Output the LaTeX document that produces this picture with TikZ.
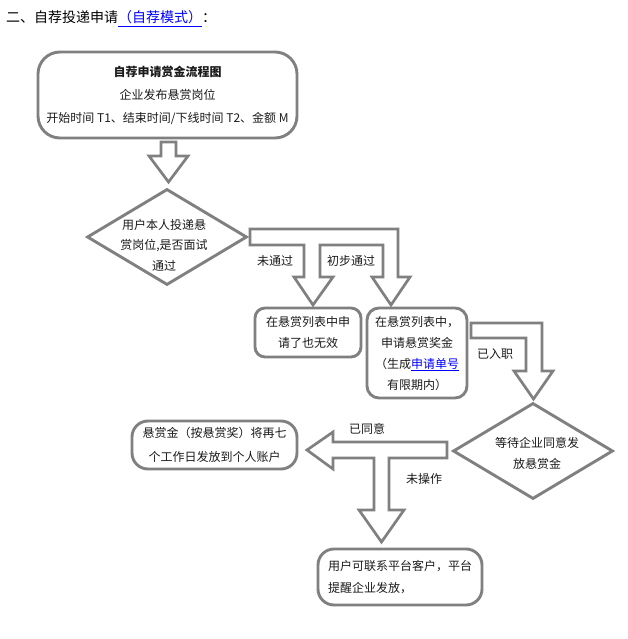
\documentclass[tikz,border=0pt]{standalone}
\usepackage{fontspec}
\setmainfont{Noto Sans CJK SC}
\usetikzlibrary{shapes.geometric}
\definecolor{lg}{HTML}{808080}
\definecolor{tx}{HTML}{1A1A1A}
\definecolor{lk}{HTML}{0000FF}
\newcommand{\fsz}[2]{\fontsize{#1}{#2}\selectfont}
\begin{document}
\begin{tikzpicture}[x=1pt,y=-1pt,
  every node/.style={text=tx},
  box/.style={draw=lg, line width=2.9pt, inner sep=0pt, align=center},
  dia/.style={draw=lg, line width=2.9pt, diamond, inner sep=0pt, minimum width=160pt, minimum height=96pt},
  barrow/.style={draw=lg, line width=2.7pt, line join=miter},
  lbl/.style={font=\fsz{12}{14}, inner sep=0pt},
  txt/.style={font=\fsz{12}{#1}, align=center, inner sep=0pt},
  txt/.default=21
]
\useasboundingbox (0,0) rectangle (627,639);

\node[anchor=base west, inner sep=0pt, font=\fsz{14}{16}, text=black] (title) at (6,23)
  {二、自荐投递申请\textcolor{lk}{\underline{（自荐模式）}}：};

\node[box, rounded corners=22pt, minimum width=259pt, minimum height=86pt, font=\fsz{12}{23}] (top) at (167.5,95)
  {\textbf{自荐申请赏金流程图}\\企业发布悬赏岗位\\开始时间 T1、结束时间/下线时间 T2、金额 M};

\node[dia] (d1) at (167,237) {};
\node[txt=20.5] (d1t) at (164,245) {用户本人投递悬\\赏岗位,是否面试\\通过};

\node[box, rounded corners=10pt, minimum width=106pt, minimum height=49pt, font=\fsz{12}{21}] (b2) at (308,332.5)
  {在悬赏列表中申\\请了也无效};

\node[box, rounded corners=12pt, minimum width=100pt, minimum height=90pt, font=\fsz{12}{21}] (b3) at (417,353)
  {在悬赏列表中，\\申请悬赏奖金\\（生成\textcolor{lk}{\underline{申请单号}}\\有限期内）};

\node[dia] (d2) at (533,451) {};
\node[txt=21] (d2t) at (537,453.5) {等待企业同意发\\放悬赏金};

\node[box, rounded corners=16pt, minimum width=165pt, minimum height=48pt, font=\fsz{12}{24}] (b4) at (214.5,445)
  {悬赏金（按悬赏奖）将再七\\个工作日发放到个人账户};

\node[box, rounded corners=16pt, minimum width=164pt, minimum height=56pt, font=\fsz{12}{22}, align=left] (b5) at (400,577)
  {用户可联系平台客户，平台\\提醒企业发放，};

% block arrows
\draw[barrow] (161,142) -- (176,142) -- (176,156) -- (188,156) -- (168.5,182) -- (149,156) -- (161,156) -- cycle;
\draw[barrow] (250,229) -- (398,229) -- (398,277) -- (410,277) -- (391,305) -- (372,277) -- (383,277) -- (383,245)
  -- (320,245) -- (320,277) -- (333,277) -- (313,305) -- (294,277) -- (304,277) -- (304,245) -- (250,245) -- cycle;
\draw[barrow] (471,323) -- (542,323) -- (542,371) -- (553,371) -- (533.5,399) -- (514,371) -- (526,371) -- (526,338) -- (471,338) -- cycle;
\draw[barrow] (447,442) -- (447,458) -- (389,458) -- (389,510) -- (404,510) -- (381.5,542) -- (359,510) -- (374,510)
  -- (374,458) -- (333,458) -- (333,469) -- (307,450) -- (333,432) -- (333,442) -- cycle;

\node[lbl] (l1) at (275,261) {未通过};
\node[lbl] (l2) at (351,261) {初步通过};
\node[lbl] (l3) at (495,354) {已入职};
\node[lbl] (l4) at (367,429) {已同意};
\node[lbl] (l5) at (424,479) {未操作};
\end{tikzpicture}
\end{document}
